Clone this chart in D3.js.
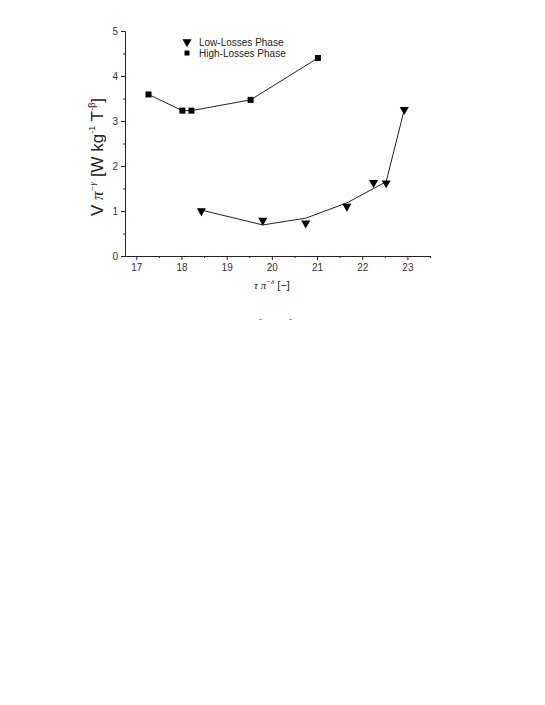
<!DOCTYPE html>
<html><head><meta charset="utf-8">
<script src="https://cdn.jsdelivr.net/npm/d3@7"></script>
<style>body{margin:0;background:#fff}</style>
</head><body>
<script>
const highX = [17.27, 18.02, 18.22, 19.53, 21.02];
const highY = [3.59, 3.23, 3.23, 3.47, 4.40];
const lowX = [18.44, 19.80, 20.75, 21.66, 22.25, 22.53, 22.93];
const lowY = [1.00, 0.79, 0.73, 1.10, 1.63, 1.62, 3.25];
const fitX = [18.44, 19.80, 20.75, 21.66, 22.25, 22.53, 22.93];
const fitY = [1.02, 0.69, 0.84, 1.18, 1.50, 1.65, 3.25];
const xTicks = [17, 18, 19, 20, 21, 22, 23];
const yTicks = [0, 1, 2, 3, 4, 5];
const legendLabels = ["Low-Losses Phase", "High-Losses Phase"];

const svg = d3.select("body").append("svg").attr("width", 545).attr("height", 705);
const x = d3.scaleLinear().domain([16.75, 23.5]).range([125, 430]);
const y = d3.scaleLinear().domain([0, 5]).range([256, 31]);
const font = "Arial, 'Liberation Sans', sans-serif";
const col = "#222";

// axes
svg.append("g").attr("transform", "translate(0,256)")
  .call(d3.axisBottom(x).tickValues(xTicks).tickFormat(d3.format("d")).tickSize(4).tickSizeOuter(0).tickPadding(4));
svg.append("g").attr("transform", "translate(0,256)")
  .call(d3.axisBottom(x).tickValues(d3.range(17.5, 23.6, 1)).tickSize(2).tickSizeOuter(0).tickFormat(""));
svg.append("g").attr("transform", "translate(125,0)")
  .call(d3.axisLeft(y).tickValues(yTicks).tickFormat(d3.format("d")).tickSize(4).tickSizeOuter(0).tickPadding(3));
svg.append("g").attr("transform", "translate(125,0)")
  .call(d3.axisLeft(y).tickValues(d3.range(0.5, 5, 1)).tickSize(2).tickSizeOuter(0).tickFormat(""));
svg.selectAll(".domain").attr("stroke", col).attr("stroke-width", 1);
svg.selectAll(".tick line").attr("stroke", col);
svg.selectAll(".tick text").attr("font-family", font).attr("font-size", 10).attr("fill", "#333");

// lines
const line = d3.line().x(d => x(d[0])).y(d => y(d[1]));
svg.append("path").datum(highX.map((v, i) => [v, highY[i]]))
  .attr("d", line).attr("fill", "none").attr("stroke", col).attr("stroke-width", 1);
svg.append("path").datum(fitX.map((v, i) => [v, fitY[i]]))
  .attr("d", line).attr("fill", "none").attr("stroke", col).attr("stroke-width", 1);

// markers
const tri = d3.symbol().type(d3.symbolTriangle).size(36);
svg.selectAll(".low").data(lowX.map((v, i) => [v, lowY[i]])).enter().append("path")
  .attr("d", tri).attr("transform", d => `translate(${x(d[0])},${y(d[1])}) rotate(180)`).attr("fill", "#000");
svg.selectAll(".high").data(highX.map((v, i) => [v, highY[i]])).enter().append("rect")
  .attr("x", d => x(d[0]) - 3).attr("y", d => y(d[1]) - 3).attr("width", 6).attr("height", 6).attr("fill", "#000");

// legend
const lg = svg.append("g");
lg.append("path").attr("d", tri).attr("transform", "translate(187,42) rotate(180)").attr("fill", "#000");
lg.append("rect").attr("x", 184.5).attr("y", 50.5).attr("width", 5).attr("height", 5).attr("fill", "#000");
lg.selectAll("text").data(legendLabels).enter().append("text")
  .attr("x", 199).attr("y", (d, i) => 45.5 + i * 11).attr("font-family", font).attr("font-size", 10).attr("fill", "#222").text(d => d);

// y label
const yl = svg.append("text").attr("transform", "translate(103,157) rotate(-90)")
  .attr("text-anchor", "middle").attr("font-family", font).attr("font-size", 17).attr("fill", "#222");
yl.append("tspan").text("V ");
yl.append("tspan").attr("font-family", "'Liberation Serif', serif").attr("font-style", "italic").text("π");
yl.append("tspan").attr("font-size", 9).attr("dy", -8).attr("font-family", "'Liberation Serif', serif").attr("font-style", "italic").text("−γ");
yl.append("tspan").attr("dy", 8).text(" [W kg");
yl.append("tspan").attr("font-size", 9).attr("dy", -8).text("-1");
yl.append("tspan").attr("dy", 8).text(" T");
yl.append("tspan").attr("font-size", 9).attr("dy", -8).text("-β");
yl.append("tspan").attr("dy", 8).text("]");

// x label
const xl = svg.append("text").attr("x", 272).attr("y", 289).attr("text-anchor", "middle")
  .attr("font-family", "'Liberation Serif', serif").attr("font-size", 11).attr("fill", "#222");
xl.append("tspan").attr("font-style", "italic").text("τ π");
xl.append("tspan").attr("font-size", 7).attr("dy", -5).attr("font-style", "italic").text("−δ");
xl.append("tspan").attr("dy", 5).attr("font-family", font).attr("font-size", 11).text(" [−]");

// faint artifacts
svg.append("line").attr("x1", 259).attr("x2", 262).attr("y1", 319.5).attr("y2", 319.5).attr("stroke", "#999");
svg.append("line").attr("x1", 289).attr("x2", 292).attr("y1", 319.5).attr("y2", 319.5).attr("stroke", "#999");
</script>
</body></html>
